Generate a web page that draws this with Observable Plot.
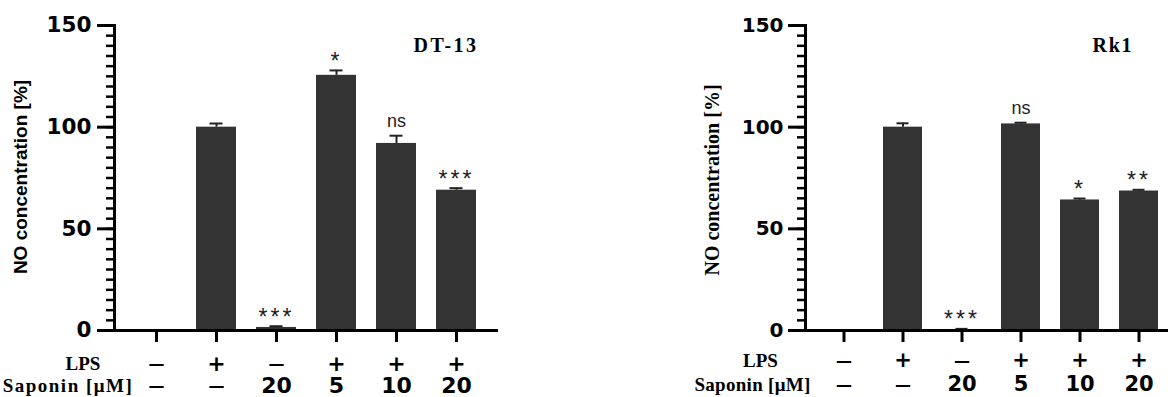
<!DOCTYPE html>
<html>
<head>
<meta charset="utf-8">
<script src="https://cdn.jsdelivr.net/npm/d3@7"></script>
<script src="https://cdn.jsdelivr.net/npm/@observablehq/plot@0.6"></script>
<style>
  body { margin: 0; background: #fff; }
  #wrap { position: relative; width: 1168px; height: 397px; overflow: hidden; background: #fff; }
  #left { position: absolute; left: 0; top: 0; }
  #right { position: absolute; left: 680px; top: 0; }
  .stars text { letter-spacing: 3px; }
  .ttlL text { letter-spacing: 2.5px; }
  .ttlR text { letter-spacing: 1.7px; }
  .sapL text { letter-spacing: 1.5px; }
  .sapR text { letter-spacing: 0.3px; }
</style>
</head>
<body>
<div id="wrap"><div id="left"></div><div id="right"></div></div>
<script>
// ---- data ----
const groups = ["G1", "G2", "G3", "G4", "G5", "G6"];
const lps = ["—", "+", "—", "+", "+", "+"];
const saponin = ["—", "—", "20", "5", "10", "20"];

const dt13Values = [0.5, 100, 1.5, 125.5, 92, 69];
const dt13Errors = [0, 1.8, 0.6, 2.4, 3.8, 1.0];
const dt13Sig = ["", "", "***", "*", "ns", "***"];

const rk1Values = [0.3, 100, 0.5, 101.6, 64.2, 68.6];
const rk1Errors = [0, 1.9, 0.3, 0.6, 0.7, 0.6];
const rk1Sig = ["", "", "***", "ns", "*", "**"];

const yMajorTicks = [0, 50, 100, 150];
const yMinorTicks = [0,5,10,15,20,25,30,35,40,45,50,55,60,65,70,75,80,85,90,95,100,105,110,115,120,125,130,135,140,145,150];
const yLabel = "NO concentration [%]";
const rowLabels = ["LPS", "Saponin [μM]"];

function chart(cfg) {
  const data = groups.map((g, i) => ({
    g, lps: lps[i], sap: saponin[i],
    v: cfg.values[i], e: cfg.errors[i], top: cfg.values[i] + cfg.errors[i], sig: cfg.sig[i]
  }));
  const withErr = data.filter(d => d.e > 0);
  const frameW = cfg.width - cfg.marginLeft - cfg.marginRight;
  return Plot.plot({
    width: cfg.width, height: 397,
    marginLeft: cfg.marginLeft, marginRight: cfg.marginRight, marginTop: 25, marginBottom: 67,
    style: { fontFamily: "DejaVu Sans", background: "white", overflow: "visible" },
    x: { type: "band", domain: groups, range: cfg.xRange, paddingInner: 1/3, paddingOuter: cfg.po, axis: null },
    y: { domain: [0, 150], axis: null },
    marks: [
      Plot.barY(data, { x: "g", y: "v", fill: "#333333" }),
      Plot.ruleX(withErr, { x: "g", y1: "v", y2: "top", stroke: "#222", strokeWidth: 2 }),
      Plot.tickY(withErr, { x: "g", y: "top", insetLeft: 13.5, insetRight: 13.5, stroke: "#222", strokeWidth: 2 }),
      // y ticks (minor and major) reaching left of the frame
      Plot.ruleY(yMinorTicks, { y: d => d, insetLeft: -8, insetRight: frameW, stroke: "#000", strokeWidth: 2.5 }),
      Plot.ruleY(yMajorTicks, { y: d => d, insetLeft: -17, insetRight: frameW, stroke: "#000", strokeWidth: 3 }),
      Plot.text(yMajorTicks, { y: d => d, frameAnchor: "left", dx: -(17 + cfg.tickPad), textAnchor: "end", lineAnchor: "middle",
        fontSize: cfg.tickFont, fontWeight: "bold", fontFamily: "DejaVu Sans", fill: "#000" }),
      Plot.frame({ anchor: "left", stroke: "#000", strokeWidth: 3 }),
      Plot.ruleY([0], { stroke: "#000", strokeWidth: 3 }),
      // x ticks below the axis
      Plot.ruleX(groups, { x: d => d, y1: 0, y2: 0, insetBottom: -12, stroke: "#000", strokeWidth: 3 }),
      // significance
      Plot.text(data.filter(d => d.sig.startsWith("*")), { x: "g", y: "top", text: "sig", dy: -9,
        fontSize: 23, fontFamily: "Liberation Sans", fill: "#222", className: "stars" }),
      Plot.text(data.filter(d => d.sig === "ns"), { x: "g", y: "top", text: "sig", dy: -14,
        fontSize: 18, fontFamily: "Liberation Sans", fill: "#222" }),
      // condition rows
      Plot.text(data, { x: "g", text: "lps", frameAnchor: "bottom", dy: cfg.row1, lineAnchor: "middle",
        fontSize: d => d.lps === "—" ? 16 : cfg.colFont, fontWeight: "bold", fontFamily: "DejaVu Sans", fill: "#000" }),
      Plot.text(data, { x: "g", text: "sap", frameAnchor: "bottom", dy: cfg.row2, lineAnchor: "middle",
        fontSize: d => d.sap === "—" ? 16 : cfg.colFont, fontWeight: "bold", fontFamily: "DejaVu Sans", fill: "#000" }),
      Plot.text([rowLabels[0]], { frameAnchor: "bottom-left", dx: cfg.lpsDx, dy: cfg.row1, textAnchor: "middle",
        lineAnchor: "middle", fontFamily: "Liberation Serif", fontWeight: "bold", fontSize: 19, fill: "#000" }),
      Plot.text([rowLabels[1]], { frameAnchor: "bottom-left", dx: cfg.sapDx, dy: cfg.row2, textAnchor: "middle",
        lineAnchor: "middle", fontFamily: "Liberation Serif", fontWeight: "bold", fontSize: 19, fill: "#000", className: cfg.sapClass }),
      // title
      Plot.text([cfg.title], { frameAnchor: "top-right", dx: cfg.titleDx, dy: 20, textAnchor: "start", lineAnchor: "middle",
        fontFamily: "Liberation Serif", fontWeight: "bold", fontSize: 20, fill: "#000", className: cfg.titleClass }),
      // y label
      Plot.text([yLabel], { frameAnchor: "left", dx: cfg.ylDx, dy: cfg.ylDy, rotate: -90, textAnchor: "middle", lineAnchor: "middle",
        fontFamily: cfg.ylFont, fontWeight: "bold", fontSize: cfg.ylSize, fill: "#000" })
    ]
  });
}

document.getElementById("left").append(chart({
  values: dt13Values, errors: dt13Errors, sig: dt13Sig, title: "DT-13", titleClass: "ttlL", titleDx: -85,
  width: 500, marginLeft: 114, marginRight: 2, xRange: [114, 498], po: 0.345,
  tickPad: 6, tickFont: 21.5, colFont: 22, row1: 33, row2: 55,
  lpsDx: -31.5, sapDx: -46.5, sapClass: "sapL",
  ylDx: -94, ylDy: -1, ylFont: "Liberation Sans", ylSize: 19
}));
document.getElementById("right").append(chart({
  values: rk1Values, errors: rk1Errors, sig: rk1Sig, title: "Rk1", titleClass: "ttlR", titleDx: -76,
  width: 488, marginLeft: 125, marginRight: 0, xRange: [125, 498], po: 0.306,
  tickPad: 5, tickFont: 20, colFont: 21, row1: 30, row2: 54,
  lpsDx: -45, sapDx: -53, sapClass: "sapR",
  ylDx: -93, ylDy: 2, ylFont: "Liberation Serif", ylSize: 20
}));
</script>
</body>
</html>
